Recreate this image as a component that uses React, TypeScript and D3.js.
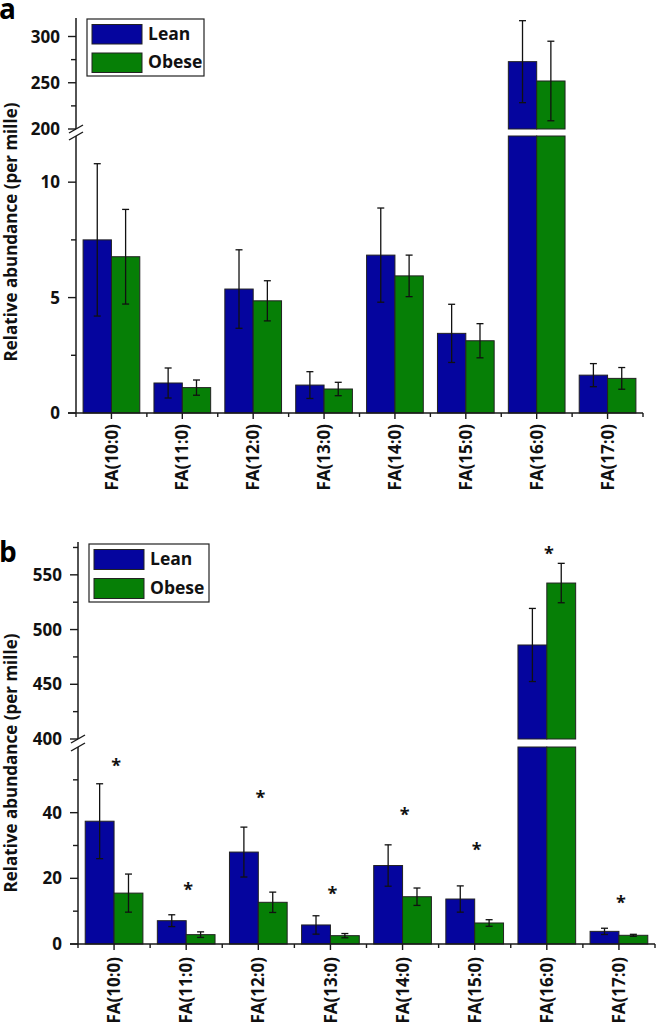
import React from "react";
import * as d3 from "d3";

const categories = ["FA(10:0)", "FA(11:0)", "FA(12:0)", "FA(13:0)", "FA(14:0)", "FA(15:0)", "FA(16:0)", "FA(17:0)"];
const seriesNames = ["Lean", "Obese"];

const leanA = [7.5, 1.3, 5.37, 1.21, 6.84, 3.45, 272.8, 1.64];
const leanAErr = [3.3, 0.65, 1.7, 0.58, 2.04, 1.26, 44.3, 0.5];
const obeseA = [6.77, 1.1, 4.86, 1.04, 5.94, 3.13, 251.9, 1.5];
const obeseAErr = [2.05, 0.33, 0.87, 0.29, 0.9, 0.74, 43, 0.47];

const leanB = [37.4, 7.1, 28.0, 5.8, 23.9, 13.7, 485.9, 3.85];
const leanBErr = [11.4, 1.8, 7.6, 2.8, 6.3, 4.0, 33.4, 0.95];
const obeseB = [15.5, 2.85, 12.7, 2.54, 14.4, 6.4, 542.5, 2.65];
const obeseBErr = [5.8, 0.85, 3.1, 0.65, 2.65, 1.0, 18, 0.3];
const starB = [55, 17.4, 45.3, 16.1, 40.2, 29.5, 571.8, 13.5];

const aLowerDomain = [0, 12];
const aUpperDomain = [200, 320];
const aLowerMajor = [0, 5, 10];
const aLowerMinor = [2.5, 7.5];
const aUpperMajor = [200, 250, 300];
const aUpperMinor = [225, 275];

const bLowerDomain = [0, 60];
const bUpperDomain = [400, 580];
const bLowerMajor = [0, 20, 40];
const bLowerMinor = [10, 30, 50];
const bUpperMajor = [400, 450, 500, 550];
const bUpperMinor = [425, 475, 525, 575];

const COLORS = ["#05059e", "#067f06"];
const FONT = "'Open Sans', 'DejaVu Sans', sans-serif";

type PanelProps = {
  label: string;
  labelY: number;
  xLeft: number;
  xRight: number;
  lowerDomain: number[];
  lowerRange: number[];
  upperDomain: number[];
  upperRange: number[];
  lowerMajor: number[];
  lowerMinor: number[];
  upperMajor: number[];
  upperMinor: number[];
  series: number[][];
  errors: number[][];
  stars?: number[];
  legend: { x: number; y: number; w: number; h: number };
  titleX: number;
  titleY: number;
  xLabelGap: number;
};

function Panel(p: PanelProps) {
  const x = d3.scaleBand<string>().domain(categories).range([p.xLeft, p.xRight]).paddingInner(0).paddingOuter(0);
  const yL = d3.scaleLinear().domain(p.lowerDomain).range(p.lowerRange);
  const yU = d3.scaleLinear().domain(p.upperDomain).range(p.upperRange);
  const lowerMax = p.lowerDomain[1];
  const upperMin = p.upperDomain[0];
  const ys = (v: number) => (v <= lowerMax ? yL(v) : yU(v));
  const bw = x.bandwidth() * 0.4;
  const axisX = p.xLeft;
  const y0 = yL(0);
  const ax = "#1a1a1a";

  const bars: React.ReactNode[] = [];
  const errs: React.ReactNode[] = [];
  categories.forEach((c, i) => {
    const center = (x(c) as number) + x.bandwidth() / 2;
    p.series.forEach((vals, s) => {
      const v = vals[i];
      const bx = center - bw + s * bw;
      if (v <= lowerMax) {
        bars.push(<rect key={`b${s}-${i}`} x={bx} y={yL(v)} width={bw} height={y0 - yL(v)} fill={COLORS[s]} stroke="#222" strokeWidth={1} />);
      } else {
        bars.push(<rect key={`b${s}-${i}-l`} x={bx} y={yL(lowerMax)} width={bw} height={y0 - yL(lowerMax)} fill={COLORS[s]} stroke="#222" strokeWidth={1} />);
        bars.push(<rect key={`b${s}-${i}-u`} x={bx} y={yU(v)} width={bw} height={yU(upperMin) - yU(v)} fill={COLORS[s]} stroke="#222" strokeWidth={1} />);
      }
      const e = p.errors[s][i];
      const ex = bx + bw / 2;
      const yt = ys(v + e);
      const yb = ys(v - e);
      errs.push(
        <g key={`e${s}-${i}`} stroke="#111" strokeWidth={1.3}>
          <line x1={ex} x2={ex} y1={yt} y2={yb} />
          <line x1={ex - 3.5} x2={ex + 3.5} y1={yt} y2={yt} />
          <line x1={ex - 3.5} x2={ex + 3.5} y1={yb} y2={yb} />
        </g>
      );
    });
  });

  const yTick = (v: number, major: boolean, sc: (v: number) => number, key: string) => (
    <g key={key}>
      <line x1={axisX - (major ? 8 : 5)} x2={axisX} y1={sc(v)} y2={sc(v)} stroke={ax} strokeWidth={1.4} />
      {major && (
        <text x={axisX - 16} y={sc(v)} dy="0.36em" textAnchor="end" fontSize={17} fontWeight={700} fontFamily={FONT} fill="#111">
          {v}
        </text>
      )}
    </g>
  );

  const breakTop = yU(upperMin);
  const breakBot = yL(lowerMax);

  return (
    <g>
      <text x={-1} y={p.labelY} fontSize={28} fontWeight={700} fontFamily={FONT} fill="#000">
        {p.label}
      </text>
      {bars}
      {errs}
      <line x1={axisX} x2={axisX} y1={y0} y2={breakBot} stroke={ax} strokeWidth={1.5} />
      <line x1={axisX} x2={axisX} y1={breakTop} y2={p.upperRange[1]} stroke={ax} strokeWidth={1.5} />
      <line x1={axisX - 7} x2={axisX + 7} y1={breakTop + 4} y2={breakTop - 4} stroke={ax} strokeWidth={1.4} />
      <line x1={axisX - 7} x2={axisX + 7} y1={breakBot + 4} y2={breakBot - 4} stroke={ax} strokeWidth={1.4} />
      {p.lowerMajor.map((v) => yTick(v, true, yL, `lm${v}`))}
      {p.lowerMinor.map((v) => yTick(v, false, yL, `ln${v}`))}
      {p.upperMajor.map((v) => yTick(v, true, yU, `um${v}`))}
      {p.upperMinor.map((v) => yTick(v, false, yU, `un${v}`))}
      <line x1={axisX - 8} x2={p.xRight} y1={y0} y2={y0} stroke={ax} strokeWidth={1.5} />
      {categories.map((c) => {
        const center = (x(c) as number) + x.bandwidth() / 2;
        return (
          <g key={`xt-${c}`}>
            <line x1={center} x2={center} y1={y0} y2={y0 + 6} stroke={ax} strokeWidth={1.4} />
            <text
              transform={`translate(${center},${y0 + p.xLabelGap}) rotate(-90)`}
              dy="0.36em"
              textAnchor="end"
              fontSize={17}
              fontWeight={700}
              fontFamily={FONT}
              fill="#111"
            >
              {c}
            </text>
          </g>
        );
      })}
      {categories.map((c) => {
        const bx = x(c) as number;
        return <line key={`xm-${c}`} x1={bx} x2={bx} y1={y0} y2={y0 + 4} stroke={ax} strokeWidth={1.4} />;
      })}
      <line x1={p.xRight} x2={p.xRight} y1={y0} y2={y0 + 4} stroke={ax} strokeWidth={1.4} />
      {p.stars &&
        p.stars.map((v, i) => {
          const center = (x(categories[i]) as number) + x.bandwidth() / 2 + 2;
          return (
            <text key={`s${i}`} x={center} y={ys(v) + 9} textAnchor="middle" fontSize={18} fontWeight={700} fontFamily={FONT} fill="#111">
              *
            </text>
          );
        })}
      <text
        transform={`translate(${p.titleX},${p.titleY}) rotate(-90)`}
        textAnchor="middle"
        fontSize={17}
        fontWeight={700}
        fontFamily={FONT}
        fill="#111"
      >
        Relative abundance (per mille)
      </text>
      <rect x={p.legend.x} y={p.legend.y} width={p.legend.w} height={p.legend.h} fill="#fff" stroke="#222" strokeWidth={1.2} />
      {seriesNames.map((n, s) => {
        const rowH = p.legend.h / 2;
        const ry = p.legend.y + s * rowH;
        return (
          <g key={`lg${n}`}>
            <rect x={p.legend.x + 5} y={ry + 5.5} width={50} height={rowH - 9} fill={COLORS[s]} stroke="#222" strokeWidth={1} />
            <text x={p.legend.x + 61} y={ry + rowH / 2} dy="0.36em" fontSize={17.5} fontWeight={700} fontFamily={FONT} fill="#111">
              {n}
            </text>
          </g>
        );
      })}
    </g>
  );
}

export default function App() {
  return (
    <svg width={657} height={1023} style={{ position: "absolute", left: 0, top: 0, background: "#fff" }}>
      <rect x={0} y={0} width={657} height={1023} fill="#fff" />
      <Panel
        label="a"
        labelY={19}
        xLeft={76}
        xRight={643}
        lowerDomain={aLowerDomain}
        lowerRange={[413, 136]}
        upperDomain={aUpperDomain}
        upperRange={[129, 18]}
        lowerMajor={aLowerMajor}
        lowerMinor={aLowerMinor}
        upperMajor={aUpperMajor}
        upperMinor={aUpperMinor}
        series={[leanA, obeseA]}
        errors={[leanAErr, obeseAErr]}
        legend={{ x: 87, y: 19, w: 117, h: 57 }}
        titleX={17}
        titleY={232}
        xLabelGap={11}
      />
      <Panel
        label="b"
        labelY={562}
        xLeft={78}
        xRight={655}
        lowerDomain={bLowerDomain}
        lowerRange={[944, 747]}
        upperDomain={bUpperDomain}
        upperRange={[739, 542]}
        lowerMajor={bLowerMajor}
        lowerMinor={bLowerMinor}
        upperMajor={bUpperMajor}
        upperMinor={bUpperMinor}
        series={[leanB, obeseB]}
        errors={[leanBErr, obeseBErr]}
        stars={starB}
        legend={{ x: 89, y: 544, w: 120, h: 58 }}
        titleX={17}
        titleY={763}
        xLabelGap={13}
      />
    </svg>
  );
}
